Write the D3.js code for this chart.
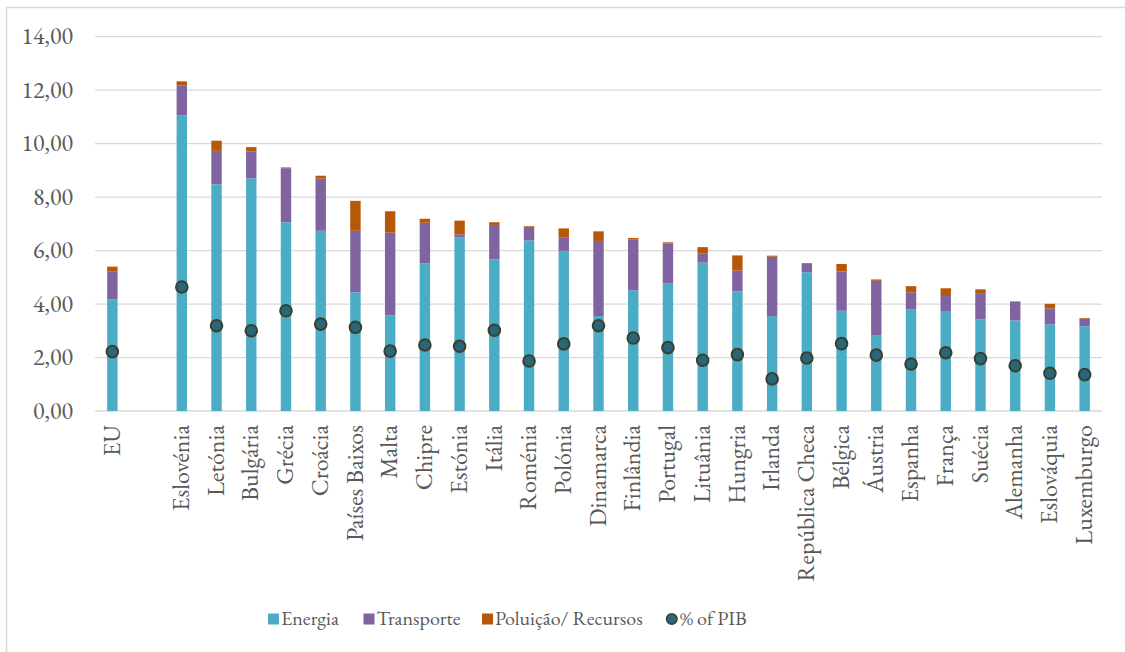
<!DOCTYPE html>
<html lang="pt">
<head>
  <meta charset="UTF-8">
  <title>Impostos ambientais - D3.js</title>
  <script src="https://d3js.org/d3.v7.min.js"></script>
  <style>
    body {
      margin: 0;
      background: #fff;
    }
  </style>
</head>
<body>
  <div id="chart"></div>
  <script>
    // categorias (o espaço vazio depois de EU é uma categoria em branco)
    const countries = ["EU", "", "Eslovénia", "Letónia", "Bulgária", "Grécia", "Croácia", "Países Baixos",
      "Malta", "Chipre", "Estónia", "Itália", "Roménia", "Polónia", "Dinamarca", "Finlândia", "Portugal",
      "Lituânia", "Hungria", "Irlanda", "República Checa", "Bélgica", "Áustria", "Espanha", "França",
      "Suécia", "Alemanha", "Eslováquia", "Luxemburgo"];

    const energia = [4.18, null, 11.06, 8.48, 8.70, 7.06, 6.74, 4.44, 3.58, 5.52, 6.50, 5.67, 6.38, 5.99,
      3.55, 4.51, 4.78, 5.55, 4.48, 3.55, 5.19, 3.75, 2.84, 3.81, 3.74, 3.43, 3.39, 3.24, 3.17];
    const transporte = [1.03, null, 1.11, 1.25, 1.00, 2.02, 1.95, 2.30, 3.09, 1.52, 0.11, 1.29, 0.50, 0.51,
      2.81, 1.91, 1.49, 0.35, 0.77, 2.22, 0.31, 1.47, 2.03, 0.63, 0.56, 0.98, 0.71, 0.60, 0.28];
    const poluicao = [0.19, null, 0.16, 0.38, 0.17, 0.03, 0.11, 1.12, 0.80, 0.15, 0.51, 0.10, 0.03, 0.33,
      0.36, 0.05, 0.04, 0.23, 0.57, 0.04, 0.03, 0.28, 0.05, 0.23, 0.29, 0.14, 0.00, 0.17, 0.03];
    const pib = [2.22, null, 4.64, 3.19, 3.00, 3.75, 3.25, 3.13, 2.24, 2.47, 2.42, 3.02, 1.87, 2.51,
      3.19, 2.73, 2.37, 1.90, 2.11, 1.20, 1.98, 2.52, 2.09, 1.76, 2.18, 1.96, 1.69, 1.41, 1.36];

    const yTicks = [0, 2, 4, 6, 8, 10, 12, 14];
    const seriesNames = ["Energia", "Transporte", "Poluição/ Recursos"];
    const colors = ["#4bacc6", "#8064a2", "#b75708"];
    const FONT = "'EB Garamond', 'Liberation Serif', serif";

    const W = 1125, H = 652;
    const margin = { top: 36.7, left: 95, right: W - 1102, bottom: H - 411 };

    const svg = d3.select("#chart").append("svg")
      .attr("width", W).attr("height", H);

    // moldura do gráfico
    svg.append("rect")
      .attr("x", 6.5).attr("y", 7.5)
      .attr("width", W + 10).attr("height", H + 10)
      .attr("fill", "none").attr("stroke", "#d9d9d9").attr("stroke-width", 1.5);

    const keys = countries.map((c, i) => i);
    const x = d3.scaleBand().domain(keys).range([margin.left, W - margin.right]).paddingInner(0.7).paddingOuter(0.35);
    const y = d3.scaleLinear().domain([0, 14]).range([H - margin.bottom, margin.top]);

    // grelha
    svg.append("g")
      .selectAll("line").data(yTicks).join("line")
      .attr("x1", margin.left).attr("x2", W - margin.right)
      .attr("y1", d => y(d)).attr("y2", d => y(d))
      .attr("stroke", "#d9d9d9").attr("stroke-width", 1.3);

    // eixo y
    const fmt = d => d3.format(".2f")(d).replace(".", ",");
    const yAxis = svg.append("g")
      .attr("transform", `translate(${margin.left - 22},0)`)
      .call(d3.axisLeft(y).tickValues(yTicks).tickFormat(fmt).tickSize(0).tickPadding(0));
    yAxis.select(".domain").remove();
    yAxis.selectAll("text")
      .attr("dy", "0.3em")
      .style("font-family", FONT)
      .style("font-size", "24px")
      .style("fill", "#595959");

    // eixo x
    const xAxis = svg.append("g")
      .attr("transform", `translate(0,${y(0)})`)
      .call(d3.axisBottom(x).tickFormat(i => countries[i]).tickSize(0).tickPadding(0));
    xAxis.select(".domain").remove();
    xAxis.selectAll("text")
      .attr("transform", "rotate(-90)")
      .attr("x", -14).attr("y", 0).attr("dy", "0.3em")
      .style("text-anchor", "end")
      .style("font-family", FONT)
      .style("font-size", "24px")
      .style("fill", "#595959");

    // barras empilhadas
    const table = keys.filter(i => energia[i] != null).map(i => ({
      i, Energia: energia[i], Transporte: transporte[i], "Poluição/ Recursos": poluicao[i]
    }));
    const stacked = d3.stack().keys(seriesNames)(table);

    svg.append("g")
      .selectAll("g").data(stacked).join("g")
      .attr("fill", (d, k) => colors[k])
      .selectAll("rect").data(d => d).join("rect")
      .attr("x", d => x(d.data.i))
      .attr("width", x.bandwidth())
      .attr("y", d => y(d[1]))
      .attr("height", d => y(d[0]) - y(d[1]));

    // % do PIB
    svg.append("g")
      .selectAll("circle").data(keys.filter(i => pib[i] != null)).join("circle")
      .attr("cx", i => x(i) + x.bandwidth() / 2)
      .attr("cy", i => y(pib[i]))
      .attr("r", 5.8)
      .attr("fill", "#26687a")
      .attr("stroke", "#3f3d2b")
      .attr("stroke-width", 2);

    // legenda
    const legendY = 619;
    const legendItems = [
      { name: "Energia", color: colors[0], x: 268, type: "rect" },
      { name: "Transporte", color: colors[1], x: 363.5, type: "rect" },
      { name: "Poluição/ Recursos", color: colors[2], x: 482, type: "rect" },
      { name: "% of PIB", color: "#26687a", x: 666, type: "circle" }
    ];
    const lg = svg.append("g").selectAll("g").data(legendItems).join("g")
      .attr("transform", d => `translate(${d.x},${legendY})`);
    lg.filter(d => d.type === "rect").append("rect")
      .attr("x", 0).attr("y", -5.5).attr("width", 11).attr("height", 11)
      .attr("fill", d => d.color);
    lg.filter(d => d.type === "circle").append("circle")
      .attr("cx", 5.8).attr("cy", 0).attr("r", 5.3)
      .attr("fill", d => d.color).attr("stroke", "#3f3d2b").attr("stroke-width", 1.5);
    lg.append("text")
      .attr("x", d => d.type === "rect" ? 13 : 14)
      .attr("y", 0).attr("dy", "0.3em")
      .style("font-family", FONT)
      .style("font-size", "20px")
      .style("fill", "#595959")
      .text(d => d.name);
  </script>
</body>
</html>
